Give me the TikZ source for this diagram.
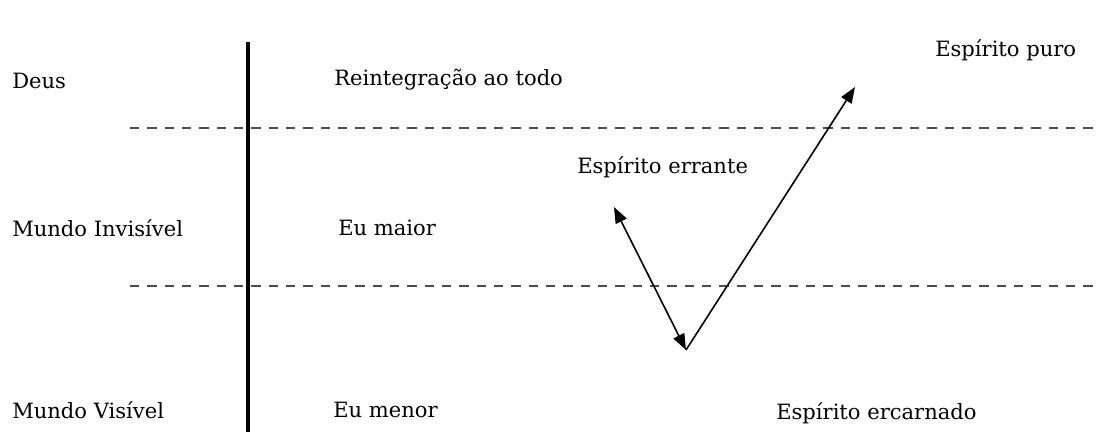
\documentclass[tikz,border=0pt]{standalone}
\usepackage{fontspec}
\setmainfont{DejaVu Serif}
\usetikzlibrary{positioning,arrows.meta}

\begin{document}
\begin{tikzpicture}[x=0.75pt, y=-0.75pt, > = {Triangle[length=12pt,width=9pt]},
  every node/.style={font=\fontsize{15.8}{18}\selectfont, inner sep=0pt, anchor=west},
  divider/.style={dashed, dash pattern=on 7pt off 6pt, line width=1.5pt, black!70},
  path/.style={line width=1.2pt}]
\useasboundingbox (0,0) rectangle (1115,443);

\node (deus) at (12,81) {Deus};
\node (invis) at (12,228) {Mundo Invisível};
\node (vis) at (12,410) {Mundo Visível};

\node (reint) at (334,80) {Reintegração ao todo};
\node (maior) at (338,228) {Eu maior};
\node (menor) at (333,410) {Eu menor};

\node (puro) at (935,50) {Espírito puro};
\node (errante) at (577,167) {Espírito errante};
\node (encarn) at (776,413) {Espírito ercarnado};

\coordinate (top) at (248,42);
\coordinate (foot) at (248,432);
\draw[line width=2.3pt] (top) -- (foot);

\coordinate (d1a) at (130,128);
\coordinate (d1b) at (1100,128);
\coordinate (d2a) at (130,286);
\coordinate (d2b) at (1100,286);
\draw[divider] (d1a) -- (d1b);
\draw[divider] (d2a) -- (d2b);

\coordinate (errtip) at (614,207);
\coordinate (low) at (686,350);
\coordinate (purotip) at (855,87);
\draw[path,<->] (errtip) -- (low);
\draw[path,->] (low) -- (purotip);
\end{tikzpicture}
\end{document}
